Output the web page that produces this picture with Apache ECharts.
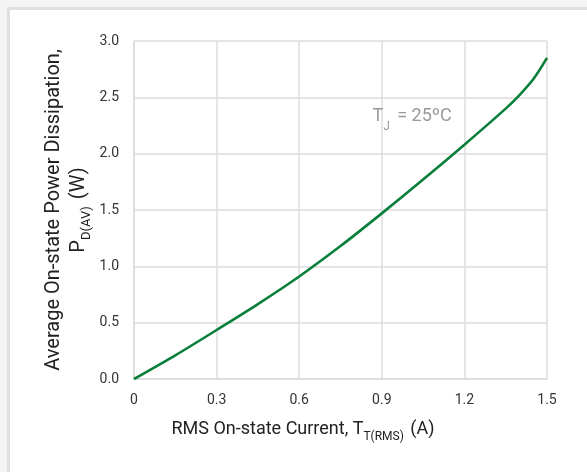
<!DOCTYPE html>
<html>
<head>
<meta charset="utf-8">
<script src="https://cdn.jsdelivr.net/npm/echarts@6/dist/echarts.min.js"></script>
<style>
html,body{margin:0;padding:0;width:587px;height:472px;overflow:hidden;background:#f4f4f4;}
#panel{position:absolute;left:7px;top:7px;right:0;bottom:0;background:#fff;border-left:3px solid #e0e0e0;border-top:3px solid #e0e0e0;}
#chart{position:absolute;left:0;top:0;width:587px;height:472px;}
</style>
</head>
<body>
<div id="panel"></div>
<div id="chart"></div>
<script>
// RMS on-state current (A)
const currentA = [0, 0.15, 0.3, 0.45, 0.6, 0.75, 0.9, 1.05, 1.2, 1.35, 1.40, 1.45, 1.5];
// Average on-state power dissipation (W)
const powerW   = [0, 0.21, 0.435, 0.665, 0.91, 1.18, 1.47, 1.77, 2.08, 2.40, 2.52, 2.66, 2.85];
const xTickLabels = ['0', '0.3', '0.6', '0.9', '1.2', '1.5'];
const yTickLabels = ['0.0', '0.5', '1.0', '1.5', '2.0', '2.5', '3.0'];
const annotation = { text: 'T', sub: 'J', rest: ' = 25ºC', at: [1.01, 2.33] };

const FONT = 'Roboto, "Liberation Sans", sans-serif';
const chart = echarts.init(document.getElementById('chart'), null, {renderer: 'canvas'});
const gridColor = '#dcdcdc';
const subStyle = c => ({ fontSize: 12, fontFamily: FONT, color: c, lineHeight: 25, verticalAlign: 'bottom', padding: [0, 2, -1, 0] });

chart.setOption({
  backgroundColor: 'transparent',
  animation: false,
  grid: { left: 134, right: 40, top: 41, bottom: 93 },
  xAxis: {
    type: 'value', min: 0, max: 1.5, interval: 0.3,
    axisLine: { show: true, lineStyle: { color: gridColor, width: 1.5 } },
    axisTick: { show: false },
    splitLine: { show: true, lineStyle: { color: gridColor, width: 1.5 } },
    axisLabel: {
      color: '#333', fontSize: 14, fontFamily: FONT, margin: 14,
      formatter: v => xTickLabels[Math.round(v / 0.3)]
    },
    name: 'RMS On-state Current, T{sub|T(RMS)} (A)',
    nameLocation: 'middle', nameGap: 38, nameMoveOverlap: false,
    nameTextStyle: {
      color: '#222', fontSize: 18, fontFamily: FONT, lineHeight: 25,
      padding: [0, 75, 0, 0],
      rich: { sub: subStyle('#222') }
    }
  },
  yAxis: {
    type: 'value', min: 0, max: 3, interval: 0.5,
    axisLine: { show: true, lineStyle: { color: gridColor, width: 1.5 } },
    axisTick: { show: false },
    splitLine: { show: true, lineStyle: { color: gridColor, width: 1.5 } },
    axisLabel: {
      color: '#333', fontSize: 14, fontFamily: FONT, margin: 15,
      formatter: v => yTickLabels[Math.round(v / 0.5)]
    },
    name: 'Average On-state Power Dissipation,\nP{sub|D(AV)} (W)',
    nameLocation: 'middle', nameGap: 43, nameRotate: 90, nameMoveOverlap: false,
    nameTextStyle: {
      color: '#222', fontSize: 20, fontFamily: FONT, lineHeight: 25,
      rich: { sub: Object.assign(subStyle('#222'), { fontSize: 13, padding: [0, 2, -2, 0] }) }
    }
  },
  series: [{
    type: 'line',
    data: currentA.map((x, i) => [x, powerW[i]]),
    smooth: 0.3,
    showSymbol: false,
    lineStyle: { color: '#0a7f3b', width: 2.6 },
    markPoint: {
      symbol: 'circle', symbolSize: 0, silent: true,
      label: {
        show: true, position: 'inside',
        formatter: annotation.text + '{sub|' + annotation.sub + '}' + annotation.rest,
        color: '#999', fontSize: 18, fontFamily: FONT, lineHeight: 24,
        rich: { sub: { fontSize: 12, color: '#999', fontFamily: FONT, lineHeight: 24, verticalAlign: 'bottom', padding: [0, 3, -5, 0] } }
      },
      data: [{ coord: annotation.at }]
    }
  }]
});
</script>
</body>
</html>
